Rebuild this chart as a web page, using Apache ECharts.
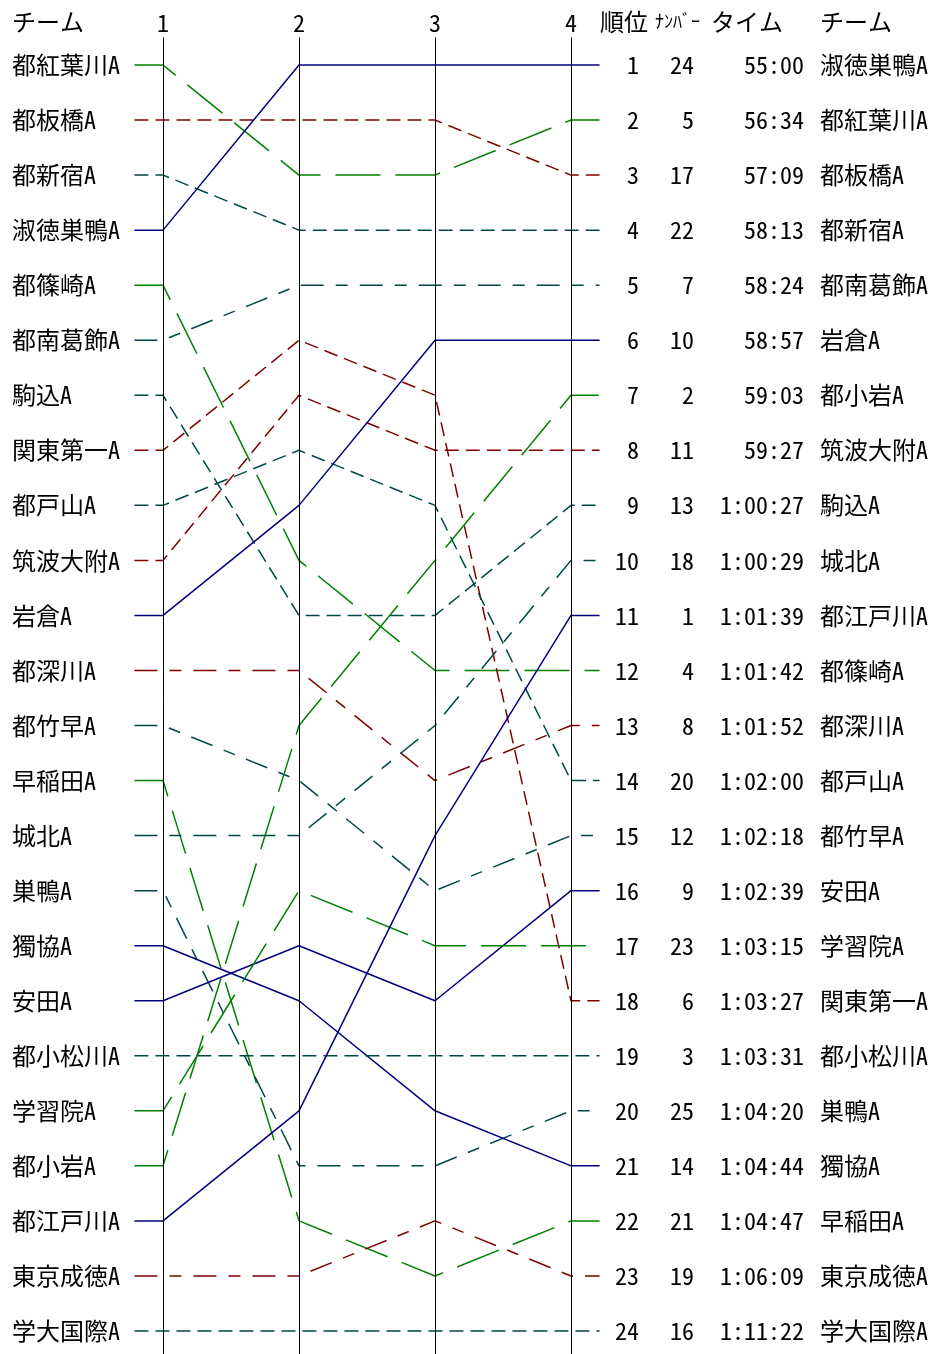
<!DOCTYPE html>
<html><head><meta charset="utf-8">
<script src="https://cdn.jsdelivr.net/npm/echarts@6/dist/echarts.min.js"></script>
<style>html,body{margin:0;padding:0;background:#fff}#c{width:933px;height:1354px}</style>
</head><body><div id="c"></div>
<script>
// ---- data ----
const legs = [1, 2, 3, 4];
const teams = ['都紅葉川A','都板橋A','都新宿A','淑徳巣鴨A','都篠崎A','都南葛飾A','駒込A','関東第一A','都戸山A','筑波大附A','岩倉A','都深川A','都竹早A','早稲田A','城北A','巣鴨A','獨協A','安田A','都小松川A','学習院A','都小岩A','都江戸川A','東京成徳A','学大国際A'];
const rank1 = [1,2,3,4,5,6,7,8,9,10,11,12,13,14,15,16,17,18,19,20,21,22,23,24];
const rank2 = [3,2,4,1,10,5,11,6,8,7,9,12,14,22,15,21,18,17,19,16,13,20,23,24];
const rank3 = [3,2,4,1,12,5,11,7,9,8,6,14,16,23,13,21,20,18,19,17,10,15,22,24];
const rank4 = [2,3,4,1,12,5,9,18,14,8,6,13,15,22,10,20,21,16,19,17,7,11,23,24];
const colorKey = ['g','r','t','b','g','t','t','r','t','r','b','r','t','g','t','t','b','b','t','g','g','b','r','t'];
const styleKey = ['long','dash','dash','solid','long','dashdot','dash','dash','dash','dash','solid','dashdot','dashdot','long','dashdot','dashdot','solid','solid','dash','long','long','solid','dashdot','dash'];
const finalRanks = [1,2,3,4,5,6,7,8,9,10,11,12,13,14,15,16,17,18,19,20,21,22,23,24];
const finalTeams = ['淑徳巣鴨A','都紅葉川A','都板橋A','都新宿A','都南葛飾A','岩倉A','都小岩A','筑波大附A','駒込A','城北A','都江戸川A','都篠崎A','都深川A','都戸山A','都竹早A','安田A','学習院A','関東第一A','都小松川A','巣鴨A','獨協A','早稲田A','東京成徳A','学大国際A'];
const bibs = [24,5,17,22,7,10,2,11,13,18,1,4,8,20,12,9,23,6,3,25,14,21,19,16];
const times = ['55:00','56:34','57:09','58:13','58:24','58:57','59:03','59:27','1:00:27','1:00:29','1:01:39','1:01:42','1:01:52','1:02:00','1:02:18','1:02:39','1:03:15','1:03:27','1:03:31','1:04:20','1:04:44','1:04:47','1:06:09','1:11:22'];
const headers = {team:'チーム', rank:'順位', bib:'ﾅﾝﾊﾞｰ', time:'タイム', team2:'チーム'};

// ---- styling ----
const COLORS = {g:'#008000', r:'#800000', t:'#004848', b:'#000080'};
const DASH = {solid:'solid', dash:[14,7], dashdot:[23,12,12,12], long:[45,15]};
const STUB_L = 0.79, STUB_R = 4.21;
const FONT = '"Noto Sans Mono CJK JP","Noto Sans CJK JP","Noto Sans",sans-serif';
const FS = 24;

const series = teams.map((name, i) => {
  const rs = [rank1[i], rank2[i], rank3[i], rank4[i]];
  const pts = [[STUB_L, rs[0]]].concat(legs.map((l, k) => [l, rs[k]])).concat([[STUB_R, rs[3]]]);
  return {
    type: 'line', name, data: pts, symbol: 'none', silent: true, animation: false,
    lineStyle: {color: COLORS[colorKey[i]], width: 1.5, type: DASH[styleKey[i]]},
    z: 3
  };
});
series.push({
  type: 'line', data: [], silent: true, animation: false, symbol: 'none',
  markLine: {
    silent: true, symbol: 'none', animation: false, label: {show: false},
    lineStyle: {color: '#000', width: 1, type: 'solid'},
    data: legs.map(l => ({xAxis: l}))
  }, z: 2
});

function rAxis(margin, align, fmt) {
  return {
    type: 'value', min: 0.5, max: 24.5, inverse: true, position: 'right',
    axisLine: {show: false}, axisTick: {show: false}, splitLine: {show: false},
    axisLabel: {customValues: finalRanks, align, margin, color: '#000', fontSize: FS, fontFamily: FONT,
      formatter: v => { const i = finalRanks.indexOf(v); return i < 0 ? '' : String(fmt(i)); }}
  };
}

const chart = echarts.init(document.getElementById('c'), null, {renderer: 'canvas'});
chart.setOption({
  backgroundColor: '#fff',
  animation: false,
  grid: {left: 129, right: 328, top: 37.5, bottom: -4.5, containLabel: false, outerBoundsMode: 'none'},
  xAxis: {
    type: 'value', min: 0.75, max: 4.25, position: 'top',
    axisLine: {show: false}, axisTick: {show: false}, splitLine: {show: false},
    axisLabel: {customValues: legs, margin: 3, color: '#000', fontSize: FS, fontFamily: FONT, formatter: v => String(v)}
  },
  yAxis: [{
    type: 'value', min: 0.5, max: 24.5, inverse: true, position: 'left',
    axisLine: {show: false}, axisTick: {show: false}, splitLine: {show: false},
    axisLabel: {customValues: rank1, align: 'left', margin: 117, color: '#000', fontSize: FS, fontFamily: FONT,
      formatter: v => teams[rank1.indexOf(v)] || ''}
  },
    rAxis(34, 'right', i => finalRanks[i]),
    rAxis(89, 'right', i => bibs[i]),
    rAxis(199, 'right', i => times[i]),
    rAxis(215, 'left', i => finalTeams[i])
  ],
  graphic: [
    {type: 'text', left: 12, top: 10, style: {text: headers.team, font: FS + 'px ' + FONT, fill: '#000'}},
    {type: 'text', left: 600, top: 10, style: {text: headers.rank, font: FS + 'px ' + FONT, fill: '#000'}},
    {type: 'text', left: 655, top: 12, style: {text: headers.bib, font: '18px ' + FONT, fill: '#000'}},
    {type: 'text', left: 711, top: 10, style: {text: headers.time, font: FS + 'px ' + FONT, fill: '#000'}},
    {type: 'text', left: 820, top: 10, style: {text: headers.team2, font: FS + 'px ' + FONT, fill: '#000'}}
  ],
  series
});
</script></body></html>
